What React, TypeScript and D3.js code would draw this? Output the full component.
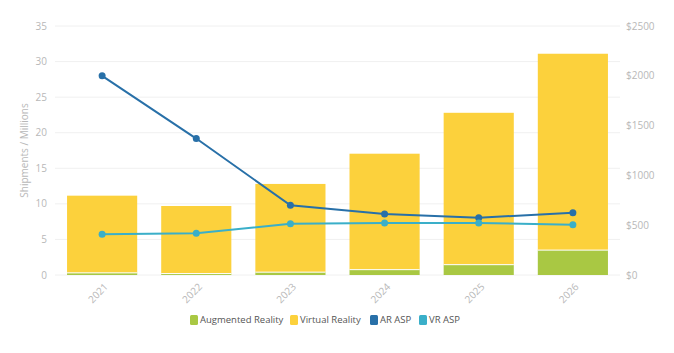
import React from 'react'
import * as d3 from 'd3'

const years = ['2021', '2022', '2023', '2024', '2025', '2026']
const arShipments = [0.3, 0.2, 0.4, 0.75, 1.45, 3.5]
const vrShipments = [10.85, 9.5, 12.4, 16.3, 21.35, 27.6]
const arAsp = [2000, 1370, 700, 612, 575, 625]
const vrAsp = [408, 418, 515, 522, 522, 505]
const leftTicks = [0, 5, 10, 15, 20, 25, 30, 35]
const rightTicks = [0, 500, 1000, 1500, 2000, 2500]

const legendItems = [
  { label: 'Augmented Reality', color: '#a9c843' },
  { label: 'Virtual Reality', color: '#fcd13c' },
  { label: 'AR ASP', color: '#2870a8' },
  { label: 'VR ASP', color: '#3aafc9' },
]

export default function App() {
  const width = 674
  const height = 353
  const margin = { top: 26, right: 54, bottom: 78, left: 55 }
  const innerW = width - margin.left - margin.right
  const innerH = height - margin.top - margin.bottom

  const x = d3.scaleBand().domain(years).range([0, innerW]).paddingInner(0.255).paddingOuter(0.128)
  const y = d3.scaleLinear().domain([0, 35]).range([innerH, 0])
  const yRight = d3.scaleLinear().domain([0, 2500]).range([innerH, 0])

  const cx = (yr: string) => (x(yr) as number) + x.bandwidth() / 2
  const line = d3.line<number>()
    .x((_, i) => cx(years[i]))
    .y(d => yRight(d))

  const font = '"Open Sans", sans-serif'
  const tickColor = '#b8b8b8'

  // legend squares, left edges as in the original
  const legendX = [190, 290, 370, 419]

  return (
    <svg width={width} height={height} style={{ position: 'absolute', left: 0, top: 0, background: '#fff' }} fontFamily={font}>
      <g transform={`translate(${margin.left},${margin.top})`}>
        {leftTicks.map(t => (
          <g key={t}>
            <line x1={0} x2={innerW} y1={y(t)} y2={y(t)} stroke="#f0f0f0" strokeWidth={1} />
            <text x={-8} y={y(t)} dy="0.35em" textAnchor="end" fontSize={10} fill={tickColor}>{t}</text>
          </g>
        ))}
        {rightTicks.map(t => (
          <text key={t} x={innerW + 6} y={yRight(t)} dy="0.35em" fontSize={10} fill={tickColor}>${t}</text>
        ))}
        <text transform={`translate(-27,${innerH / 2}) rotate(-90)`} textAnchor="middle" fontSize={10} fill={tickColor}>
          Shipments / Millions
        </text>

        {years.map((yr, i) => {
          const x0 = x(yr) as number
          const arTop = y(arShipments[i])
          const vrTop = y(arShipments[i] + vrShipments[i])
          return (
            <g key={yr}>
              <rect x={x0} y={vrTop} width={x.bandwidth()} height={arTop - vrTop} fill="#fcd13c" />
              <rect x={x0} y={arTop} width={x.bandwidth()} height={innerH - arTop} fill="#a9c843" />
              <line x1={x0} x2={x0 + x.bandwidth()} y1={arTop} y2={arTop} stroke="#fff" strokeWidth={1} />
              <text transform={`translate(${cx(yr) + 4},${innerH + 10}) rotate(-45)`} textAnchor="end" dy="0.35em" fontSize={10} fill={tickColor}>
                {yr}
              </text>
            </g>
          )
        })}

        <path d={line(arAsp) ?? ''} fill="none" stroke="#2870a8" strokeWidth={2} />
        <path d={line(vrAsp) ?? ''} fill="none" stroke="#3aafc9" strokeWidth={2} />
        {arAsp.map((v, i) => (
          <circle key={'a' + i} cx={cx(years[i])} cy={yRight(v)} r={3.5} fill="#2870a8" />
        ))}
        {vrAsp.map((v, i) => (
          <circle key={'v' + i} cx={cx(years[i])} cy={yRight(v)} r={3.5} fill="#3aafc9" />
        ))}
      </g>

      <g transform="translate(0,320)">
        {legendItems.map((item, i) => (
          <g key={item.label} transform={`translate(${legendX[i]},0)`}>
            <rect x={0} y={-5} width={8} height={10} rx={1.5} fill={item.color} />
            <text x={10} y={0} dy="0.35em" fontSize={9.5} fill="#555">{item.label}</text>
          </g>
        ))}
      </g>
    </svg>
  )
}
